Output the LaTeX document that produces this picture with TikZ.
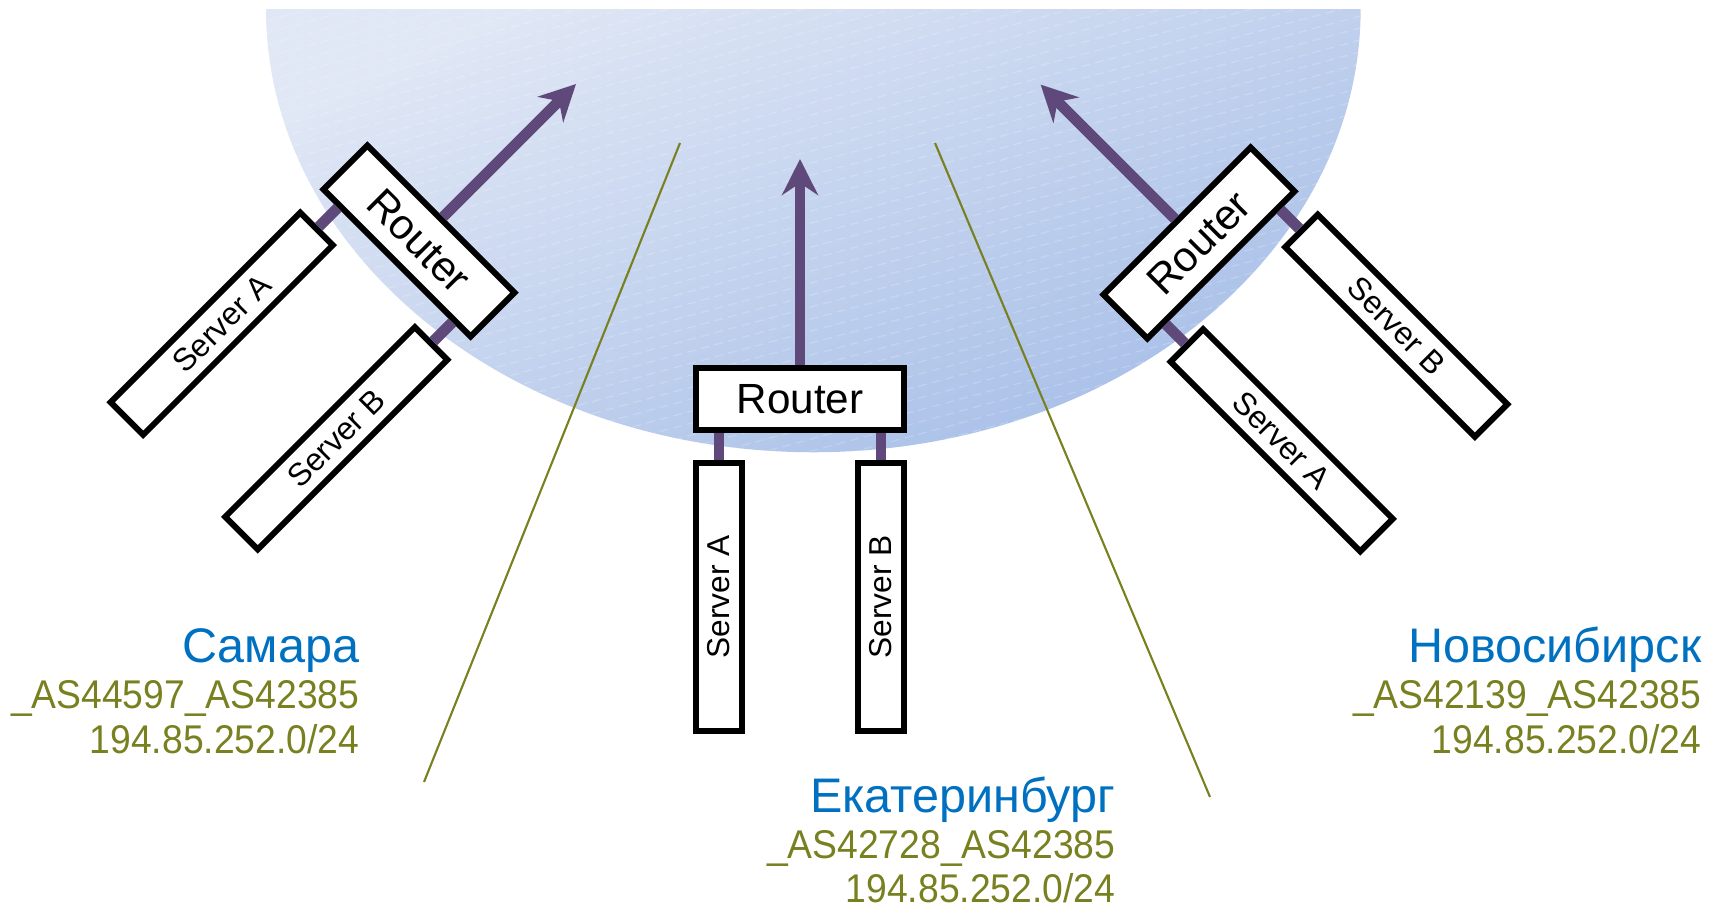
\documentclass[tikz,border=0pt]{standalone}
\usepackage{fontspec}
\setmainfont{Liberation Sans}
\newfontfamily\asnfont[FakeStretch=0.93]{Liberation Sans}
\usetikzlibrary{arrows.meta, calc}
\definecolor{cityblue}{RGB}{0,112,192}
\definecolor{asnolive}{RGB}{120,128,32}
\definecolor{linkpurple}{RGB}{95,73,122}
\definecolor{bgtop}{RGB}{224,231,245}
\definecolor{bgbottom}{RGB}{166,190,231}

\begin{document}
\begin{tikzpicture}[
    x=0.01cm, y=-0.01cm,
    >={Stealth[length=3.6mm, width=3.6mm, inset=1.2mm]},
    router/.style={draw, line width=1.7pt, fill=white, minimum width=2.08cm, minimum height=0.62cm, inner sep=0pt, font=\fontsize{12}{14}\selectfont},
    server/.style={draw, line width=1.7pt, fill=white, minimum width=0.46cm, minimum height=2.68cm, inner sep=0pt, font=\fontsize{9}{11}\selectfont},
    link/.style={draw=linkpurple, line width=3.1pt},
    uplink/.style={link, ->},
    divider/.style={draw=asnolive, line width=0.6pt},
    city/.style={text=cityblue, anchor=base east, inner sep=0pt, font=\fontsize{13.8}{16}\selectfont},
    asn/.style={text=asnolive, anchor=base east, inner sep=0pt, font=\asnfont\fontsize{11.4}{13}\selectfont},
]
    \useasboundingbox (0,0) rectangle (1719,906);
    % backbone area
    \shade[top color=bgtop, bottom color=bgbottom, shading angle=25]
        (266,9) arc[start angle=180, end angle=360, x radius=5.47cm, y radius=4.43cm] -- cycle;
    \begin{scope}
        \clip (266,9) arc[start angle=180, end angle=360, x radius=5.47cm, y radius=4.43cm] -- cycle;
        \foreach \k in {0,...,62}
            \draw[white, opacity=0.2, line width=0.35pt, dash pattern=on 2.5pt off 1.5pt] (266,9+12*\k) -- ++(1094,-293);
    \end{scope}

    \draw[divider] (680,143) -- (424,782);
    \draw[divider] (935,143) -- (1210,797);

    % Ekaterinburg
    \node[router] (rtE) at (800,399) {Router};
    \node[server] (saE) at (719,597) {\rotatebox{90}{Server A}};
    \node[server] (sbE) at (881,597) {\rotatebox{90}{Server B}};
    \coordinate (tipE) at (800,159);
    \draw[uplink] (rtE.north) -- (tipE);
    \draw[link] (saE.north) -- ($(rtE.south west)!(saE.north)!(rtE.south east)$);
    \draw[link] (sbE.north) -- ($(rtE.south west)!(sbE.north)!(rtE.south east)$);

    % Samara
    \begin{scope}[shift={(419,241)}, rotate=-45, transform shape]
        \node[router] (rtS) at (0,0) {Router};
        \node[server] (saS) at (-81,198) {\rotatebox{90}{Server A}};
        \node[server] (sbS) at (81,198) {\rotatebox{90}{Server B}};
        \coordinate (tipS) at (0,-222);
    \end{scope}
    \draw[uplink] (rtS.north) -- (tipS);
    \draw[link] (saS.north) -- ($(rtS.south west)!(saS.north)!(rtS.south east)$);
    \draw[link] (sbS.north) -- ($(rtS.south west)!(sbS.north)!(rtS.south east)$);

    % Novosibirsk
    \begin{scope}[shift={(1199,243)}, rotate=45, transform shape]
        \node[router] (rtN) at (0,0) {Router};
        \node[server] (saN) at (-81,198) {\rotatebox{-90}{Server A}};
        \node[server] (sbN) at (81,198) {\rotatebox{-90}{Server B}};
        \coordinate (tipN) at (0,-224);
    \end{scope}
    \draw[uplink] (rtN.north) -- (tipN);
    \draw[link] (saN.north) -- ($(rtN.south west)!(saN.north)!(rtN.south east)$);
    \draw[link] (sbN.north) -- ($(rtN.south west)!(sbN.north)!(rtN.south east)$);

    \node[city] (samName) at (360,662) {Самара};
    \node[asn] (samAs) at (360,708) {\_AS44597\_AS42385};
    \node[asn] (samNet) at (360,753) {194.85.252.0/24};

    \node[city] (ekbName) at (1116,812) {Екатеринбург};
    \node[asn] (ekbAs) at (1116,858) {\_AS42728\_AS42385};
    \node[asn] (ekbNet) at (1116,902) {194.85.252.0/24};

    \node[city] (nskName) at (1702,662) {Новосибирск};
    \node[asn] (nskAs) at (1702,708) {\_AS42139\_AS42385};
    \node[asn] (nskNet) at (1702,753) {194.85.252.0/24};
\end{tikzpicture}
\end{document}
